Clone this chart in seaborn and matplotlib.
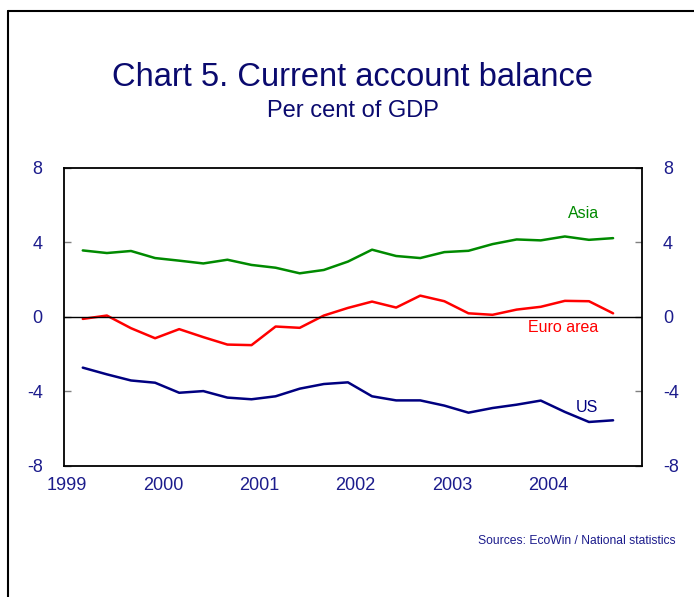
import numpy as np
import pandas as pd
import matplotlib
matplotlib.use("Agg")
import matplotlib.pyplot as plt
import matplotlib.transforms as mtransforms
from matplotlib.lines import Line2D
import seaborn as sns

# quarterly observations, 1999Q1 - 2004Q3 (per cent of GDP)
quarters = [1999.2 + 0.25 * i for i in range(23)]
asia = [3.57, 3.43, 3.54, 3.16, 3.02, 2.87, 3.07, 2.79, 2.64, 2.34, 2.52, 2.97,
        3.61, 3.27, 3.16, 3.48, 3.55, 3.91, 4.16, 4.11, 4.32, 4.14, 4.23]
euro_area = [-0.11, 0.07, -0.61, -1.15, -0.66, -1.09, -1.49, -1.52, -0.52, -0.59, 0.07, 0.48,
             0.82, 0.50, 1.14, 0.84, 0.19, 0.11, 0.39, 0.54, 0.86, 0.84, 0.19]
us = [-2.73, -3.09, -3.42, -3.54, -4.08, -3.99, -4.34, -4.43, -4.27, -3.86, -3.61, -3.52,
      -4.27, -4.49, -4.49, -4.77, -5.15, -4.90, -4.72, -4.50, -5.11, -5.65, -5.56]

year_ticks = [1999, 2000, 2001, 2002, 2003, 2004]
y_ticks = [-8, -4, 0, 4, 8]

navy = "#1c1c8c"
colors = {"Asia": "#008a00", "Euro area": "#ff0000", "US": "#000080"}

df = pd.DataFrame({"date": quarters, "Asia": asia, "Euro area": euro_area, "US": us})
df_long = df.melt(id_vars="date", var_name="region", value_name="balance")

sns.set_style("white")
plt.rcParams["font.family"] = ["Liberation Sans", "DejaVu Sans"]
plt.rcParams["axes.unicode_minus"] = False

fig = plt.figure(figsize=(6.94, 5.97), dpi=100)
ax = fig.add_axes([63.5 / 694, 1 - 465.7 / 597, (642 - 63.5) / 694, (465.7 - 168) / 597])

sns.lineplot(data=df_long, x="date", y="balance", hue="region", palette=colors,
             linewidth=1.8, legend=False, ax=ax)
ax.axhline(0, color="black", linewidth=1)

ax.set_xlim(1999, 2005)
ax.set_ylim(-8, 8)
ax.set_xticks(year_ticks)
ax.set_xticklabels([str(y) for y in year_ticks])
ax.set_yticks(y_ticks)
ax.set_yticklabels([str(v) for v in y_ticks])
ax.set_xlabel("")
ax.set_ylabel("")
for s in ax.spines.values():
    s.set_visible(True)
    s.set_color("black")
    s.set_linewidth(1.3)

ax.tick_params(axis="x", direction="in", length=4, width=1, color="black",
               labelsize=13, labelcolor=navy, pad=8)
ax.tick_params(axis="y", direction="in", length=5, width=1, color="#808080",
               labelsize=13, labelcolor=navy, pad=15,
               left=True, right=True, labelleft=True, labelright=True)
shift = mtransforms.ScaledTranslation(3 / 100, 0, fig.dpi_scale_trans)
for lbl in ax.get_xticklabels():
    lbl.set_transform(lbl.get_transform() + shift)

ax.text(2004.39, 5.55, "Asia", color=colors["Asia"], fontsize=11.5, ha="center", va="center")
ax.text(2004.18, -0.55, "Euro area", color=colors["Euro area"], fontsize=11.5, ha="center", va="center")
ax.text(2004.43, -4.85, "US", color=colors["US"], fontsize=11.5, ha="center", va="center")

fig.text(353 / 694, 1 - 77 / 597, "Chart 5. Current account balance", color="#0a0a6e",
         fontsize=23.5, ha="center", va="center")
fig.text(353 / 694, 1 - 111 / 597, "Per cent of GDP", color="#0a0a6e",
         fontsize=17, ha="center", va="center")
fig.text(676 / 694, 1 - 541 / 597, "Sources: EcoWin / National statistics", color=navy,
         fontsize=8.7, ha="right", va="center")

# outer frame (only top and left edges fall inside the picture)
fig.add_artist(Line2D([8 / 694, 8 / 694], [0, 1 - 11 / 597], transform=fig.transFigure,
                      color="black", linewidth=1.5))
fig.add_artist(Line2D([8 / 694, 1], [1 - 11 / 597, 1 - 11 / 597], transform=fig.transFigure,
                      color="black", linewidth=1.5))

fig.savefig("out.png", dpi=100)
